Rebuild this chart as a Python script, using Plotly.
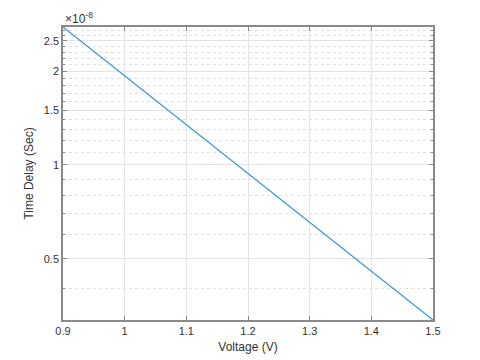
import math
import plotly.graph_objects as go

# values (voltage in V, delay in seconds)
voltage = [0.9, 1.0, 1.1, 1.2, 1.3, 1.4, 1.5]
delay = [2.77e-8, 1.93e-8, 1.35e-8, 0.94e-8, 0.655e-8, 0.457e-8, 0.318e-8]

ytick_vals = [0.5e-8, 1e-8, 1.5e-8, 2e-8, 2.5e-8]
ytick_text = ["0.5", "1", "1.5", "2", "2.5"]
yminor_vals = [v * 1e-9 for v in [4, 6, 7, 8, 9, 11, 12, 13, 14, 16, 17, 18, 19, 21, 22, 23, 24, 26, 27]]
xtick_vals = [0.9, 1.0, 1.1, 1.2, 1.3, 1.4, 1.5]
xtick_text = ["0.9", "1", "1.1", "1.2", "1.3", "1.4", "1.5"]

axis_col = "#8a8a8a"
grid_col = "#e3e3e3"

fig = go.Figure()
fig.add_trace(go.Scatter(x=voltage, y=delay, mode="lines",
                         line=dict(color="#3593d3", width=1.2), showlegend=False))

# page body has an 8px margin, so the figure is a bit smaller than the window
fig.update_layout(
    width=472, height=352,
    margin=dict(l=55, r=47, t=19, b=40),
    paper_bgcolor="white", plot_bgcolor="white",
    font=dict(family="Liberation Sans, Arial", size=11, color="#333"),
    xaxis=dict(
        range=[0.9, 1.5], tickmode="array", tickvals=xtick_vals, ticktext=xtick_text,
        showgrid=True, gridcolor=grid_col, gridwidth=1, automargin=False,
        showline=True, linecolor=axis_col, linewidth=1.5, mirror="ticks",
        ticks="inside", ticklen=4, tickcolor=axis_col, zeroline=False,
        title=dict(text="Voltage (V)", standoff=7, font=dict(size=12)),
    ),
    yaxis=dict(
        type="log", range=[math.log10(0.318e-8), math.log10(2.77e-8)],
        tickmode="array", tickvals=ytick_vals, ticktext=ytick_text,
        showgrid=True, gridcolor=grid_col, gridwidth=1, automargin=False,
        showline=True, linecolor=axis_col, linewidth=1.5, mirror="ticks",
        ticks="inside", ticklen=4, tickcolor=axis_col, zeroline=False,
        minor=dict(tickmode="array", tickvals=yminor_vals, showgrid=True,
                   gridcolor="#e0e0e0", griddash="dot", gridwidth=1,
                   ticks="inside", ticklen=2, tickcolor=axis_col),
        title=dict(text="Time Delay (Sec)", standoff=8, font=dict(size=12)),
    ),
)

fig.add_annotation(x=0, y=1, xref="paper", yref="paper", xanchor="left", yanchor="bottom",
                   text="×10<sup>-8</sup>", showarrow=False, yshift=-1,
                   font=dict(size=12, color="#333"))

fig.write_html("out.html")
